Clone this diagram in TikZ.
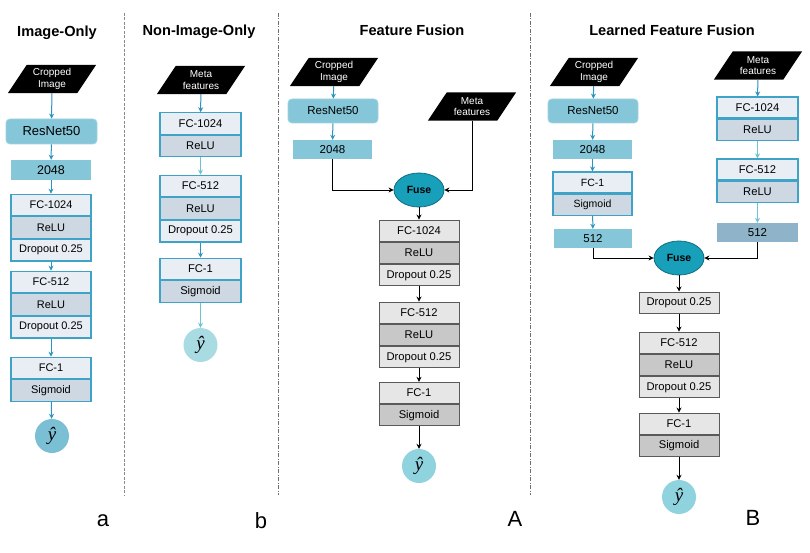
\documentclass[tikz,border=0pt]{standalone}
\usepackage{fontspec}
\setmainfont{Liberation Sans}
\newfontfamily\yfont{Liberation Serif}
\usetikzlibrary{arrows.meta,shapes.geometric,calc}
\definecolor{tealfill}{HTML}{85C6D8}
\definecolor{tealedge}{HTML}{9FD3E2}
\definecolor{tborder}{HTML}{3EA3C6}
\definecolor{tlight}{HTML}{E8EEF4}
\definecolor{tdark}{HTML}{CDD8E2}
\definecolor{tarrow}{HTML}{2B95BD}
\definecolor{tarrowlt}{HTML}{6CC3D3}
\definecolor{fusefill}{HTML}{189FB9}
\definecolor{fuseedge}{HTML}{0F6E80}
\definecolor{glight}{HTML}{E6E6E6}
\definecolor{gdark}{HTML}{C8C8C8}
\definecolor{gborder}{HTML}{5A5A5A}
\definecolor{yhatA}{HTML}{7BBFD4}
\definecolor{yhatB}{HTML}{A9DBE3}
\definecolor{yhatC}{HTML}{8FD3DF}
\definecolor{meta512}{HTML}{8FB4C9}
\definecolor{sepgray}{HTML}{8A8A8A}
\tikzset{
  ttl/.style={font=\bfseries\fontsize{14.6}{16}\selectfont},
  lbl/.style={font=\fontsize{22}{24}\selectfont},
  para/.style={minimum width=88pt, minimum height=28pt, inner sep=0pt, text=white, align=center, font=\fontsize{10}{11.5}\selectfont},
  tbox/.style={rectangle, minimum height=21.5pt, inner sep=0pt, draw=tborder, line width=1.1pt},
  tl/.style={tbox, fill=tlight},
  td/.style={tbox, fill=tdark},
  gbox/.style={rectangle, minimum width=80pt, minimum height=21.3pt, inner sep=0pt, draw=gborder, line width=1pt, font=\fontsize{11.2}{13}\selectfont},
  gl/.style={gbox, fill=glight},
  gd/.style={gbox, fill=gdark},
  res/.style={rectangle, rounded corners=4pt, fill=tealfill, draw=tealedge, line width=0.8pt, inner sep=0pt},
  num/.style={rectangle, fill=tealfill, inner sep=0pt, minimum width=79pt, minimum height=19pt, font=\fontsize{11.5}{13}\selectfont},
  fuse/.style={ellipse, fill=fusefill, draw=fuseedge, line width=0.8pt, minimum width=50pt, minimum height=34pt, inner sep=0pt, font=\bfseries\fontsize{10.5}{12}\selectfont},
  yhat/.style={circle, minimum size=34pt, inner sep=0pt, font=\yfont\itshape\fontsize{19}{21}\selectfont},
  tarr/.style={draw=tarrow, line width=1pt, -{Stealth[length=5pt,width=5pt]}},
  tarrl/.style={draw=tarrowlt, line width=1pt, -{Stealth[length=5pt,width=5pt]}},
  barr/.style={draw=black, line width=0.8pt, -{Stealth[length=5pt,width=5pt]}},
  sep/.style={draw=sepgray, line width=0.9pt, dash pattern=on 3pt off 1.5pt},
  sepdd/.style={draw=sepgray!80!black, line width=0.9pt, dash pattern=on 4pt off 1.5pt on 1pt off 1.5pt},
}
\newcommand{\paraback}[1]{\fill[black] ($(#1.north west)+(19,0)$) -- (#1.north east) -- ($(#1.south east)+(-19,0)$) -- (#1.south west) -- cycle;}
\begin{document}
\begin{tikzpicture}[x=1pt,y=-1pt]
\useasboundingbox[fill=white] (0,0) rectangle (810,553);

% separators
\draw[sep] (124,13) -- (124,495);
\draw[sepdd] (278,13) -- (278,495);
\draw[sepdd] (530,13) -- (530,495);

% titles
\node[ttl] (t1) at (57,33) {Image-Only};
\node[ttl] (t2) at (199,32) {Non-Image-Only};
\node[ttl] (t3) at (412,30) {Feature Fusion};
\node[ttl] (t4) at (672,30) {Learned Feature Fusion};

% bottom labels
\node[lbl] (la) at (103,521) {a};
\node[lbl] (lb) at (261,521) {b};
\node[lbl] (lA) at (515,519) {A};
\node[lbl] (lB) at (753,518) {B};

% ---------------- panel a ----------------
\begin{scope}[every node/.append style={font=\fontsize{11}{13}\selectfont}]
\node[para] (a-in) at (52,79) {}; \paraback{a-in}
\node[para] at (a-in) {Cropped\\Image};
\node[res, minimum width=91pt, minimum height=25pt, font=\fontsize{13}{15}\selectfont] (a-res) at (51.5,131.5) {ResNet50};
\node[num, minimum width=80pt, minimum height=20pt, font=\fontsize{12.5}{14}\selectfont] (a-2048) at (51,170) {2048};
\node[tl, minimum width=80pt] (a-fc1024) at (51,205) {FC-1024};
\node[td, minimum width=80pt, anchor=north] (a-relu1) at (a-fc1024.south) {ReLU};
\node[tl, minimum width=80pt, anchor=north] (a-drop1) at (a-relu1.south) {Dropout 0.25};
\node[tl, minimum width=80pt] (a-fc512) at (51,282) {FC-512};
\node[td, minimum width=80pt, anchor=north] (a-relu2) at (a-fc512.south) {ReLU};
\node[tl, minimum width=80pt, anchor=north] (a-drop2) at (a-relu2.south) {Dropout 0.25};
\node[tl, minimum width=80pt] (a-fc1) at (51,368) {FC-1};
\node[td, minimum width=80pt, anchor=north] (a-sig) at (a-fc1.south) {Sigmoid};
\node[yhat, fill=yhatA] (a-y) at (52,436) {ŷ};
\end{scope}
\draw[tarr] (a-in) -- (a-res);
\draw[tarr] (a-res) -- (a-2048);
\draw[tarr] (a-2048) -- (a-fc1024);
\draw[tarr] (a-drop1) -- (a-fc512);
\draw[tarr] (a-drop2) -- (a-fc1);
\draw[tarr] (a-sig) -- (a-y);

% ---------------- panel b ----------------
\begin{scope}[every node/.append style={font=\fontsize{11.2}{13}\selectfont}]
\node[para] (b-in) at (201,80) {}; \paraback{b-in}
\node[para] at (b-in) {Meta\\features};
\node[tl, minimum width=81pt] (b-fc1024) at (200.5,123.5) {FC-1024};
\node[td, minimum width=81pt, anchor=north] (b-relu1) at (b-fc1024.south) {ReLU};
\node[tl, minimum width=81pt] (b-fc512) at (200.5,186) {FC-512};
\node[td, minimum width=81pt, anchor=north] (b-relu2) at (b-fc512.south) {ReLU};
\node[tl, minimum width=81pt, anchor=north] (b-drop2) at (b-relu2.south) {Dropout 0.25};
\node[tl, minimum width=81pt] (b-fc1) at (200.5,269) {FC-1};
\node[td, minimum width=81pt, anchor=north] (b-sig) at (b-fc1.south) {Sigmoid};
\node[yhat, fill=yhatB] (b-y) at (200.5,345) {ŷ};
\end{scope}
\draw[tarr] (b-in) -- (b-fc1024);
\draw[tarrl] (b-relu1) -- (b-fc512);
\draw[tarr] (b-drop2) -- (b-fc1);
\draw[tarrl] (b-sig) -- (b-y);

% ---------------- panel A ----------------
\node[para] (A-in) at (334,72) {}; \paraback{A-in}
\node[para] at (A-in) {Cropped\\Image};
\node[res, minimum width=90pt, minimum height=24pt, font=\fontsize{11.5}{13}\selectfont] (A-res) at (333,111) {ResNet50};
\node[num] (A-2048) at (332.5,149.5) {2048};
\node[para] (A-meta) at (472,106.5) {}; \paraback{A-meta}
\node[para] at (A-meta) {Meta\\features};
\node[fuse] (A-fuse) at (419,190) {Fuse};
\node[gl] (A-fc1024) at (419,230.7) {FC-1024};
\node[gd, anchor=north] (A-relu1) at (A-fc1024.south) {ReLU};
\node[gl, anchor=north] (A-drop1) at (A-relu1.south) {Dropout 0.25};
\node[gl] (A-fc512) at (419,312.7) {FC-512};
\node[gd, anchor=north] (A-relu2) at (A-fc512.south) {ReLU};
\node[gl, anchor=north] (A-drop2) at (A-relu2.south) {Dropout 0.25};
\node[gl] (A-fc1) at (419,393) {FC-1};
\node[gd, anchor=north] (A-sig) at (A-fc1.south) {Sigmoid};
\node[yhat, fill=yhatC] (A-y) at (419,466) {ŷ};
\draw[tarr] (A-in) -- (A-res);
\draw[tarr] (A-res) -- (A-2048);
\draw[barr] (A-2048.south) |- (A-fuse.west);
\draw[barr] (A-meta.south) |- (A-fuse.east);
\draw[barr] (A-fuse) -- (A-fc1024);
\draw[barr] (A-drop1) -- (A-fc512);
\draw[barr] (A-drop2) -- (A-fc1);
\draw[barr] (A-sig) -- (A-y);

% ---------------- panel B ----------------
\node[para] (B-in) at (594,72) {}; \paraback{B-in}
\node[para] at (B-in) {Cropped\\Image};
\node[res, minimum width=90pt, minimum height=24pt, font=\fontsize{11.5}{13}\selectfont] (B-res) at (593,111) {ResNet50};
\node[num] (B-2048) at (592.5,149.5) {2048};
\begin{scope}[every node/.append style={font=\fontsize{10.5}{12}\selectfont}]
\node[tl, minimum width=79pt, minimum height=21pt] (B-fc1a) at (592.5,182.5) {FC-1};
\node[td, minimum width=79pt, minimum height=21pt, anchor=north] (B-siga) at (B-fc1a.south) {Sigmoid};
\end{scope}
\node[num, minimum width=78pt] (B-512a) at (593,238.5) {512};
\node[para] (B-meta) at (758,65.5) {}; \paraback{B-meta}
\node[para] at (B-meta) {Meta\\features};
\begin{scope}[every node/.append style={font=\fontsize{11.2}{13}\selectfont}]
\node[tl, minimum width=81pt, minimum height=21pt] (B-fc1024) at (757.5,107.5) {FC-1024};
\node[td, minimum width=81pt, minimum height=21pt, anchor=north] (B-relu1) at (B-fc1024.south) {ReLU};
\node[tl, minimum width=81pt, minimum height=21pt] (B-fc512r) at (757.5,169.5) {FC-512};
\node[td, minimum width=81pt, minimum height=21pt, anchor=north] (B-relu2r) at (B-fc512r.south) {ReLU};
\end{scope}
\node[num, minimum width=81pt, fill=meta512] (B-512b) at (757.5,232.5) {512};
\node[fuse] (B-fuse) at (679,258) {Fuse};
\node[gl, minimum height=21pt] (B-drop0) at (679,302.5) {Dropout 0.25};
\node[gl] (B-fc512) at (679,342.7) {FC-512};
\node[gd, anchor=north] (B-relu) at (B-fc512.south) {ReLU};
\node[gl, anchor=north] (B-drop) at (B-relu.south) {Dropout 0.25};
\node[gl] (B-fc1) at (679,423.7) {FC-1};
\node[gd, anchor=north] (B-sig) at (B-fc1.south) {Sigmoid};
\node[yhat, fill=yhatC] (B-y) at (679,497) {ŷ};
\draw[tarr] (B-in) -- (B-res);
\draw[tarr] (B-res) -- (B-2048);
\draw[tarr] (B-2048) -- (B-fc1a);
\draw[tarr] (B-siga) -- (B-512a);
\draw[tarr] (B-meta) -- (B-fc1024);
\draw[tarrl] (B-relu1) -- (B-fc512r);
\draw[tarrl] (B-relu2r) -- (B-512b);
\draw[barr] (B-512a.south) |- (B-fuse.west);
\draw[barr] (B-512b.south) |- (B-fuse.east);
\draw[barr] (B-fuse) -- (B-drop0);
\draw[barr] (B-drop0) -- (B-fc512);
\draw[barr] (B-drop) -- (B-fc1);
\draw[barr] (B-sig) -- (B-y);
\end{tikzpicture}
\end{document}
